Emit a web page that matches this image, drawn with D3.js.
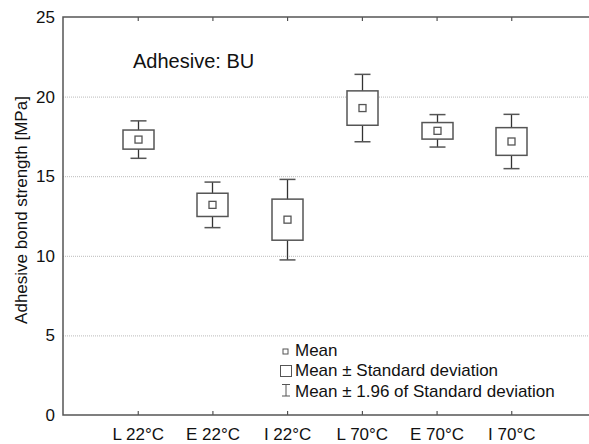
<!DOCTYPE html>
<html>
<head>
<meta charset="utf-8">
<script src="https://cdn.jsdelivr.net/npm/d3@7"></script>
<style>
  body { margin: 0; background: #fff; }
  svg { font-family: "Liberation Sans", Arial, sans-serif; }
</style>
</head>
<body>
<script>
// groups along the x axis
var categories = ['L 22°C', 'E 22°C', 'I 22°C', 'L 70°C', 'E 70°C', 'I 70°C'];
// mean bond strength [MPa] and standard deviation
var means = [17.3, 13.2, 12.27, 19.28, 17.85, 17.18];
var sds = [0.6, 0.73, 1.29, 1.08, 0.52, 0.87];
var yTicks = [0, 5, 10, 15, 20, 25];
var legendItems = ['Mean', 'Mean \u00b1 Standard deviation', 'Mean \u00b1 1.96 of Standard deviation'];

var W = 589, H = 444,
    plotL = 63, plotR = 586, plotT = 17, plotB = 415;

var svg = d3.select('body').append('svg')
    .attr('width', W)
    .attr('height', H);

var x = d3.scalePoint()
    .domain(categories)
    .range([plotL, plotR])
    .padding(1);

var y = d3.scaleLinear()
    .domain([0, 25])
    .range([plotB, plotT]);

// dotted grid
svg.append('g').selectAll('line')
    .data(yTicks.filter(function(d) { return d > 0 && d < 25; }))
    .join('line')
    .attr('x1', plotL).attr('x2', W)
    .attr('y1', function(d) { return y(d) + 0.5; })
    .attr('y2', function(d) { return y(d) + 0.5; })
    .attr('stroke', '#bbb')
    .attr('stroke-dasharray', '1,1');

// y axis
var yAxis = svg.append('g')
    .attr('transform', 'translate(' + plotL + ',0)')
    .call(d3.axisLeft(y).tickValues(yTicks).tickSize(0).tickPadding(8));
yAxis.select('.domain').remove();
yAxis.selectAll('text')
    .attr('font-size', 17)
    .attr('font-family', '"Liberation Sans", Arial, sans-serif')
    .attr('fill', '#111');

// x axis bottom and top, ticks pointing inward
var xAxis = svg.append('g')
    .attr('transform', 'translate(0,' + plotB + ')')
    .call(d3.axisBottom(x).tickSize(-4).tickPadding(13));
xAxis.select('.domain').remove();
xAxis.selectAll('line').attr('stroke', '#333');
xAxis.selectAll('text')
    .attr('font-size', 17)
    .attr('font-family', '"Liberation Sans", Arial, sans-serif')
    .attr('fill', '#111');

var xTop = svg.append('g')
    .attr('transform', 'translate(0,' + plotT + ')')
    .call(d3.axisTop(x).tickSize(-4).tickFormat(''));
xTop.select('.domain').remove();
xTop.selectAll('line').attr('stroke', '#333');

// frame: left, bottom, top
svg.append('path')
    .attr('d', 'M' + [W, plotT] + ' L' + [plotL, plotT] + ' L' + [plotL, plotB] + ' L' + [W, plotB])
    .attr('fill', 'none')
    .attr('stroke', '#555')
    .attr('stroke-width', 1.5);

svg.append('text')
    .attr('transform', 'translate(' + [27, 210] + ') rotate(-90)')
    .attr('text-anchor', 'middle')
    .attr('font-size', 17)
    .attr('fill', '#111')
    .text('Adhesive bond strength [MPa]');

svg.append('text')
    .attr('x', 133)
    .attr('y', 68)
    .attr('font-size', 20)
    .attr('fill', '#111')
    .text('Adhesive: BU');

// boxes
var boxW = 31, capW = 16, mW = 7;
var g = svg.append('g').selectAll('g')
    .data(categories)
    .join('g')
    .attr('transform', function(d) { return 'translate(' + Math.round(x(d)) + ',0)'; });

g.append('line')
    .attr('x1', 0.5).attr('x2', 0.5)
    .attr('y1', function(d, i) { return y(means[i] + 1.96 * sds[i]); })
    .attr('y2', function(d, i) { return y(means[i] - 1.96 * sds[i]); })
    .attr('stroke', '#333').attr('stroke-width', 1.3);

g.selectAll('line.cap')
    .data(function(d, i) { return [means[i] + 1.96 * sds[i], means[i] - 1.96 * sds[i]]; })
    .join('line')
    .attr('class', 'cap')
    .attr('x1', -capW / 2 + 0.5).attr('x2', capW / 2 + 0.5)
    .attr('y1', function(v) { return y(v); })
    .attr('y2', function(v) { return y(v); })
    .attr('stroke', '#555').attr('stroke-width', 1.5);

g.append('rect')
    .attr('x', -boxW / 2 + 0.5)
    .attr('width', boxW)
    .attr('y', function(d, i) { return y(means[i] + sds[i]); })
    .attr('height', function(d, i) { return y(means[i] - sds[i]) - y(means[i] + sds[i]); })
    .attr('fill', '#fff')
    .attr('stroke', '#555').attr('stroke-width', 1.5);

g.append('rect')
    .attr('x', -mW / 2 + 0.5)
    .attr('width', mW)
    .attr('y', function(d, i) { return y(means[i]) - mW / 2; })
    .attr('height', mW)
    .attr('fill', '#fff')
    .attr('stroke', '#555').attr('stroke-width', 1.3);

// legend
var leg = svg.append('g').attr('transform', 'translate(280,356)');
leg.selectAll('text')
    .data(legendItems)
    .join('text')
    .attr('x', 15)
    .attr('y', function(d, i) { return i * 20.3; })
    .attr('font-size', 17)
    .attr('fill', '#111')
    .text(function(d) { return d; });

leg.append('rect')
    .attr('x', 3).attr('y', -7).attr('width', 5).attr('height', 5)
    .attr('fill', 'none').attr('stroke', '#555');
leg.append('rect')
    .attr('x', 0.5).attr('y', 9.5).attr('width', 11).attr('height', 11)
    .attr('fill', 'none').attr('stroke', '#555');
leg.append('path')
    .attr('d', 'M2,28.5 L10,28.5 M6,28.5 L6,40 M2,40 L10,40')
    .attr('fill', 'none').attr('stroke', '#555');
</script>
</body>
</html>
